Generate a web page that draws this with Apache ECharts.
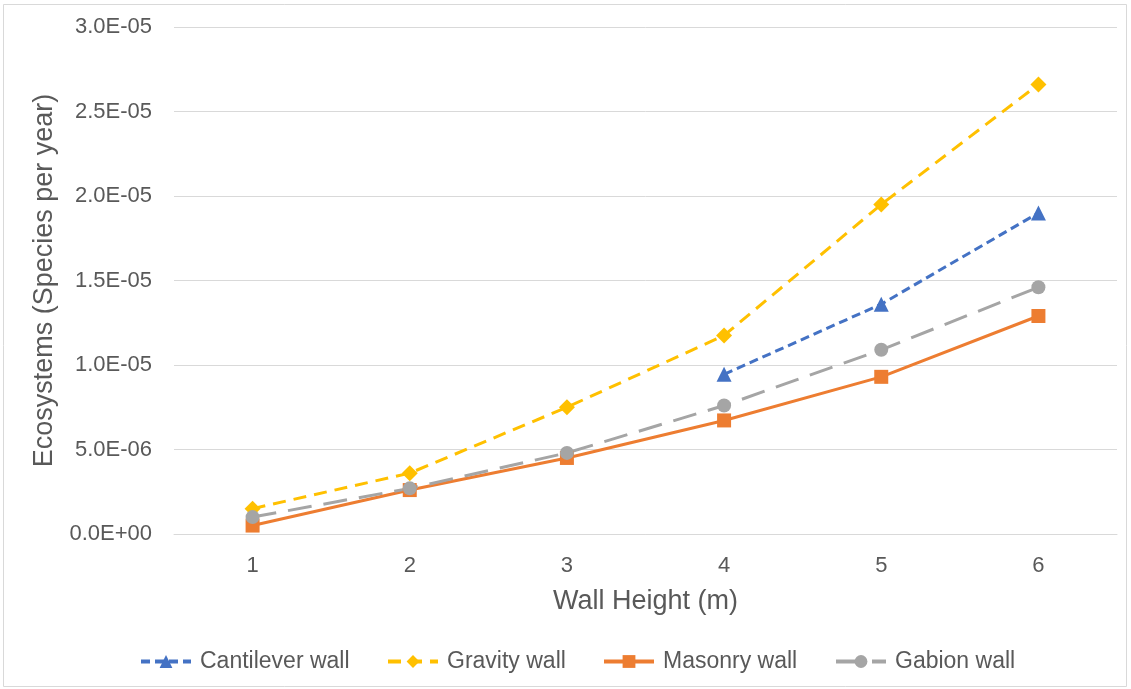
<!DOCTYPE html>
<html>
<head>
<meta charset="utf-8">
<script src="https://cdn.jsdelivr.net/npm/echarts@6/dist/echarts.min.js"></script>
<style>
  html, body { margin: 0; padding: 0; background: #ffffff; }
  #chart { width: 1131px; height: 689px; }
</style>
</head>
<body>
<div id="chart"></div>
<script>
// Wall heights (m) on the category axis
const heights = ['1', '2', '3', '4', '5', '6'];

// Ecosystem impact (species per year) for each wall type
const cantilever = [null, null, null, 9.45e-6, 13.6e-6, 19.0e-6];
const gravity    = [1.5e-6, 3.6e-6, 7.5e-6, 11.75e-6, 19.5e-6, 26.6e-6];
const masonry    = [0.5e-6, 2.6e-6, 4.5e-6, 6.72e-6, 9.3e-6, 12.9e-6];
const gabion     = [1.0e-6, 2.7e-6, 4.8e-6, 7.6e-6, 10.9e-6, 14.6e-6];

// Value axis ticks
const yMin = 0;
const yMax = 3.0e-5;
const yStep = 5.0e-6;

const FONT = '"Liberation Sans", Arial, sans-serif';
const TEXT = '#595959';
const GRID = '#d9d9d9';

function sci(v) {
  if (Math.abs(v) < 1e-15) return '0.0E+00';
  const parts = v.toExponential(1).split('e');
  const n = parseInt(parts[1], 10);
  return parts[0] + 'E' + (n < 0 ? '-' : '+') + String(Math.abs(n)).padStart(2, '0');
}

function lineSeries(name, data, color, dash, symbol, size) {
  return {
    name: name,
    type: 'line',
    data: data,
    symbol: symbol,
    symbolSize: size,
    connectNulls: false,
    lineStyle: { color: color, width: 3, type: dash, cap: 'butt' },
    itemStyle: { color: color },
    emphasis: { disabled: true },
    animation: false
  };
}

function legendAt(name, left) {
  return {
    data: [name],
    left: left,
    top: 650,
    padding: 0,
    itemWidth: 50,
    itemHeight: 16,
    itemGap: 0,
    lineStyle: { width: 4 },
    textStyle: { color: TEXT, fontSize: 23, fontFamily: FONT, padding: [0, 0, 0, 4] },
    selectedMode: false
  };
}

const chart = echarts.init(document.getElementById('chart'), null, { renderer: 'canvas' });

chart.setOption({
  backgroundColor: '#ffffff',
  animation: false,
  graphic: [{
    type: 'rect',
    shape: { x: 3.5, y: 4.5, width: 1123, height: 682 },
    style: { fill: 'none', stroke: '#d9d9d9', lineWidth: 1 },
    silent: true
  }],
  grid: { left: 174, right: 14, top: 27, bottom: 155 },
  legend: [
    legendAt('Cantilever wall', 139),
    legendAt('Gravity wall', 386),
    legendAt('Masonry wall', 602),
    legendAt('Gabion wall', 834)
  ],
  xAxis: {
    type: 'category',
    data: heights,
    boundaryGap: true,
    name: 'Wall Height (m)',
    nameLocation: 'middle',
    nameGap: 54,
    nameTextStyle: { color: TEXT, fontSize: 27, fontFamily: FONT },
    axisLine: { show: true, lineStyle: { color: GRID, width: 1 } },
    axisTick: { show: false },
    axisLabel: { color: TEXT, fontSize: 22, fontFamily: FONT, margin: 21 },
    splitLine: { show: false }
  },
  yAxis: {
    type: 'value',
    min: yMin,
    max: yMax,
    interval: yStep,
    name: 'Ecosystems (Species per year)',
    nameLocation: 'middle',
    nameGap: 115,
    nameTextStyle: { color: TEXT, fontSize: 27, fontFamily: FONT },
    axisLine: { show: false },
    axisTick: { show: false },
    axisLabel: { color: TEXT, fontSize: 22, fontFamily: FONT, margin: 22, formatter: sci },
    splitLine: { show: true, lineStyle: { color: GRID, width: 1 } }
  },
  series: [
    lineSeries('Cantilever wall', cantilever, '#4472c4', [9, 5], 'triangle', 15),
    lineSeries('Gravity wall', gravity, '#ffc000', [13, 8], 'diamond', 16),
    lineSeries('Masonry wall', masonry, '#ed7d31', 'solid', 'rect', 14),
    lineSeries('Gabion wall', gabion, '#a5a5a5', [24, 12], 'circle', 14)
  ]
});
</script>
</body>
</html>
